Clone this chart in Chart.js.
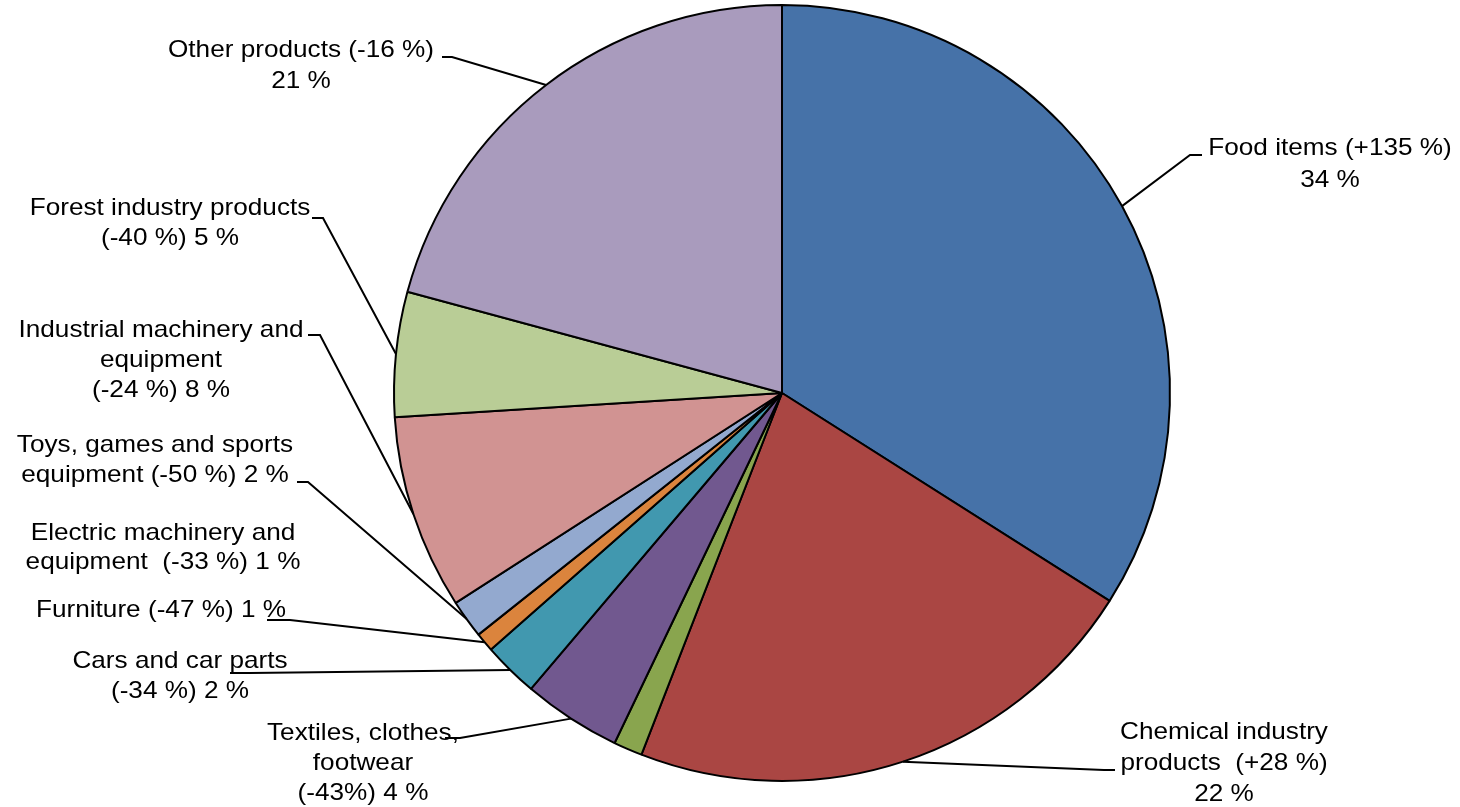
<!DOCTYPE html>
<html>
<head>
<meta charset="utf-8">
<script src="https://cdn.jsdelivr.net/npm/chart.js@4"></script>
<style>
  html, body { margin: 0; padding: 0; background: #fff; }
  #wrap { width: 1460px; height: 807px; }
</style>
</head>
<body>
<div id="wrap"><canvas id="ExportChart"></canvas></div>
<script>
// product groups in pie order (clockwise from 12 o'clock)
var categories = ['Food items', 'Chemical industry products', 'Electric machinery and equipment',
    'Textiles, clothes, footwear', 'Cars and car parts', 'Furniture',
    'Toys, games and sports equipment', 'Industrial machinery and equipment',
    'Forest industry products', 'Other products'];
var changes = ['+135 %', '+28 %', '-33 %', '-43%', '-34 %', '-47 %', '-50 %', '-24 %', '-40 %', '-16 %'];
var shares = [34.0, 21.9, 1.2, 4.1, 2.3, 0.8, 1.6, 8.1, 5.2, 20.8];
var shareLabels = ['34 %', '22 %', '1 %', '4 %', '2 %', '1 %', '2 %', '8 %', '5 %', '21 %'];
var colors = ['#4672a8', '#aa4643', '#89a54e', '#71588f', '#4198af', '#db843d',
    '#93a9cf', '#d19392', '#b9cd96', '#a99bbd'];

// label placement: text lines, centre x, first baseline, line height, leader elbow + end
var labelLayout = [
    {lines: [categories[0] + ' (' + changes[0] + ')', shareLabels[0]], x: 1330, y: 155, lh: 32, elbow: [1190, 155], end: [1202, 155]},
    {lines: ['Chemical industry', 'products  (' + changes[1] + ')', shareLabels[1]], x: 1224, y: 739, lh: 31, elbow: [1104, 770], end: [1115, 770]},
    {lines: ['Electric machinery and', 'equipment  (' + changes[2] + ') ' + shareLabels[2]], x: 163, y: 540, lh: 29, elbow: null},
    {lines: ['Textiles, clothes,', 'footwear', '(' + changes[3] + ') ' + shareLabels[3]], x: 363, y: 740, lh: 30, elbow: [460, 738], end: [445, 738]},
    {lines: [categories[4], '(' + changes[4] + ') ' + shareLabels[4]], x: 180, y: 668, lh: 30, elbow: [250, 673], end: [230, 673]},
    {lines: [categories[5] + ' (' + changes[5] + ') ' + shareLabels[5]], x: 161, y: 617, lh: 30, elbow: [290, 620], end: [267, 620]},
    {lines: ['Toys, games and sports', 'equipment (' + changes[6] + ') ' + shareLabels[6]], x: 155, y: 452, lh: 30, elbow: [308, 482], end: [297, 482]},
    {lines: ['Industrial machinery and', 'equipment', '(' + changes[7] + ') ' + shareLabels[7]], x: 161, y: 337, lh: 30, elbow: [320, 335], end: [308, 335]},
    {lines: [categories[8], '(' + changes[8] + ') ' + shareLabels[8]], x: 170, y: 215, lh: 30, elbow: [323, 218], end: [312, 218]},
    {lines: [categories[9] + ' (' + changes[9] + ')', shareLabels[9]], x: 301, y: 57, lh: 31, elbow: [452, 57], end: [442, 57]}
];

var pieLabels = {
    id: 'pieLabels',
    afterDraw: function (chart) {
        var ctx = chart.ctx;
        var arcs = chart.getDatasetMeta(0).data;
        ctx.save();
        ctx.strokeStyle = '#000';
        ctx.lineWidth = 2;
        arcs.forEach(function (arc, i) {
            var lay = labelLayout[i];
            if (!lay.elbow) return;
            var mid = (arc.startAngle + arc.endAngle) / 2;
            var sx = arc.x + Math.cos(mid) * arc.outerRadius;
            var sy = arc.y + Math.sin(mid) * arc.outerRadius;
            ctx.beginPath();
            ctx.moveTo(sx, sy);
            ctx.lineTo(lay.elbow[0], lay.elbow[1]);
            ctx.lineTo(lay.end[0], lay.end[1]);
            ctx.stroke();
        });
        ctx.fillStyle = '#000';
        ctx.font = '24px "Liberation Sans", Arial, sans-serif';
        ctx.textAlign = 'center';
        ctx.textBaseline = 'alphabetic';
        labelLayout.forEach(function (lay) {
            lay.lines.forEach(function (line, k) {
                ctx.save();
                ctx.translate(lay.x, lay.y + k * lay.lh);
                ctx.scale(1.09, 1);
                ctx.fillText(line, 0, 0);
                ctx.restore();
            });
        });
        ctx.restore();
    }
};

var ctx = document.getElementById('ExportChart').getContext('2d');
var ExportChart = new Chart(ctx, {
    type: 'pie',
    plugins: [pieLabels],
    options: {
        responsive: true,
        maintainAspectRatio: false,
        animation: false,
        radius: 388,
        layout: {
            padding: {left: 394, right: 290, top: 5, bottom: 26}
        },
        plugins: {
            legend: {display: false},
            tooltip: {enabled: false}
        }
    },
    data: {
        labels: categories,
        datasets: [{
            data: shares,
            backgroundColor: colors,
            borderColor: '#000',
            borderWidth: 2
        }]
    }
});
</script>
</body>
</html>
